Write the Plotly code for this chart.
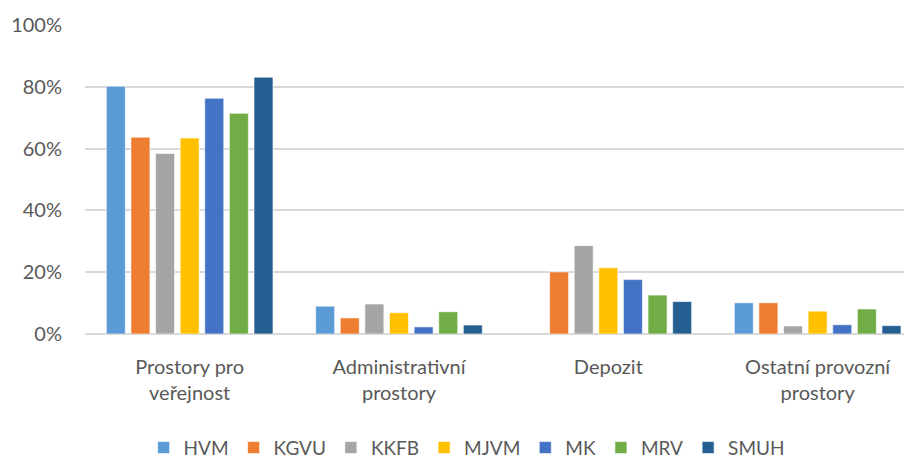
import plotly.graph_objects as go

categories = ["Prostory pro<br>veřejnost", "Administrativní<br>prostory", "Depozit", "Ostatní provozní<br>prostory"]
series_names = ["HVM", "KGVU", "KKFB", "MJVM", "MK", "MRV", "SMUH"]
colors = ["#5B9BD5", "#ED7D31", "#A5A5A5", "#FFC000", "#4472C4", "#70AD47", "#255E91"]

HVM = [0.802, 0.090, None, 0.101]
KGVU = [0.637, 0.052, 0.201, 0.101]
KKFB = [0.584, 0.097, 0.286, 0.026]
MJVM = [0.634, 0.069, 0.214, 0.074]
MK = [0.763, 0.023, 0.176, 0.030]
MRV = [0.714, 0.072, 0.126, 0.081]
SMUH = [0.831, 0.029, 0.105, 0.027]
values = [HVM, KGVU, KKFB, MJVM, MK, MRV, SMUH]

font_fam = "Lato, 'Open Sans', sans-serif"
fs = 20
fig = go.Figure()
for name, vals, col in zip(series_names, values, colors):
    fig.add_trace(go.Bar(
        name=name, x=categories, y=vals,
        marker=dict(color=col, line=dict(color="rgba(255,255,255,0.6)", width=1)),
    ))

fig.update_layout(
    width=912, height=458,
    margin=dict(l=77, r=0, t=17, b=132, autoexpand=False),
    paper_bgcolor="white", plot_bgcolor="white",
    barmode="group", bargap=0.177, bargroupgap=0.228,
    font=dict(family=font_fam, size=fs, color="#595959"),
    legend=dict(orientation="h",
                x=0.457, xanchor="center", y=-0.368, yanchor="middle",
                font=dict(size=19, color="#595959"), itemclick=False),
    showlegend=True,
)
fig.update_xaxes(range=[-0.5, 3.489], showgrid=False, showline=False, zeroline=False,
                 automargin=False,
                 ticks="", ticklabelstandoff=19, tickfont=dict(size=fs, color="#595959"))
fig.update_yaxes(range=[0, 1.0], dtick=0.2, tickformat=".0%", showgrid=True,
                 automargin=False,
                 gridcolor="#D9D9D9", gridwidth=1.5, zeroline=True, zerolinecolor="#D9D9D9",
                 zerolinewidth=1.5, showline=False, ticks="", ticklabelstandoff=22,
                 tickfont=dict(size=fs, color="#595959"))

fig.write_html("out.html")
